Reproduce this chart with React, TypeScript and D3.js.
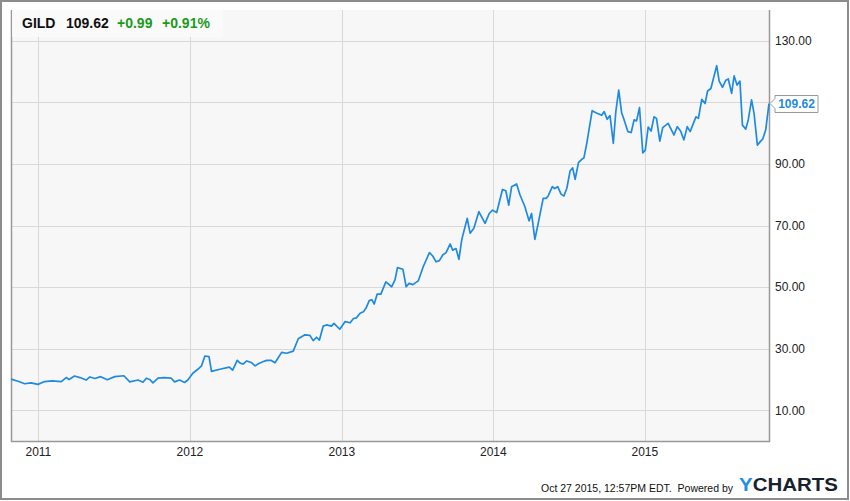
import React, { useEffect, useRef } from 'react';
import * as d3 from 'd3';

// GILD weekly closes
const dates: string[] = [
  '2010-10-27', '2010-11-13', '2010-11-29', '2010-12-14', '2010-12-31',
  '2011-01-16', '2011-02-03', '2011-02-25', '2011-03-09', '2011-03-16', '2011-03-29',
  '2011-04-11', '2011-04-26', '2011-05-05', '2011-05-17', '2011-05-31', '2011-06-16',
  '2011-07-04', '2011-07-26', '2011-08-09', '2011-08-29', '2011-09-10', '2011-09-18',
  '2011-09-26', '2011-10-04', '2011-10-16', '2011-10-31', '2011-11-17', '2011-11-25',
  '2011-12-07', '2011-12-19', '2011-12-27',
  '2012-01-08', '2012-01-20', '2012-01-29', '2012-02-06', '2012-02-16', '2012-02-22',
  '2012-03-13', '2012-04-05', '2012-04-13', '2012-04-24', '2012-05-01', '2012-05-08',
  '2012-05-17', '2012-05-29', '2012-06-06', '2012-06-15', '2012-06-26', '2012-07-04',
  '2012-07-14', '2012-07-24', '2012-08-09', '2012-08-21', '2012-09-06', '2012-09-18',
  '2012-10-04', '2012-10-16', '2012-10-24', '2012-11-01', '2012-11-08', '2012-11-17',
  '2012-11-25', '2012-12-07', '2012-12-13', '2012-12-27',
  '2013-01-09', '2013-01-21', '2013-01-29', '2013-02-05', '2013-02-14', '2013-02-22',
  '2013-02-28', '2013-03-08', '2013-03-14', '2013-03-20', '2013-03-27', '2013-04-05',
  '2013-04-17', '2013-05-01', '2013-05-09', '2013-05-15', '2013-05-28', '2013-06-05',
  '2013-06-12', '2013-06-21', '2013-07-04', '2013-07-16', '2013-07-31', '2013-08-08',
  '2013-08-16', '2013-08-24', '2013-09-01', '2013-09-09', '2013-09-19', '2013-09-25',
  '2013-10-03', '2013-10-10', '2013-10-17', '2013-10-30', '2013-11-06', '2013-11-15',
  '2013-11-27', '2013-12-12', '2013-12-22', '2013-12-30',
  '2014-01-09', '2014-01-23', '2014-01-31', '2014-02-07', '2014-02-14', '2014-02-26',
  '2014-03-06', '2014-03-18', '2014-03-28', '2014-04-03', '2014-04-11', '2014-04-19',
  '2014-05-01', '2014-05-08', '2014-05-13', '2014-05-23', '2014-05-29', '2014-06-05',
  '2014-06-13', '2014-06-20', '2014-06-27', '2014-07-05', '2014-07-11', '2014-07-17',
  '2014-07-25', '2014-08-02', '2014-08-07', '2014-08-14', '2014-08-27', '2014-09-05',
  '2014-09-19', '2014-09-25', '2014-10-02', '2014-10-09', '2014-10-17', '2014-10-23',
  '2014-10-30', '2014-11-06', '2014-11-12', '2014-11-21', '2014-11-29', '2014-12-06',
  '2014-12-12', '2014-12-19', '2014-12-27',
  '2015-01-02', '2015-01-09', '2015-01-16', '2015-01-23', '2015-01-29', '2015-02-06',
  '2015-02-13', '2015-02-26', '2015-03-12', '2015-03-20', '2015-03-28', '2015-04-05',
  '2015-04-13', '2015-04-20', '2015-05-04', '2015-05-10', '2015-05-18', '2015-05-26',
  '2015-06-01', '2015-06-09', '2015-06-23', '2015-06-29', '2015-07-07', '2015-07-15',
  '2015-07-21', '2015-07-29', '2015-08-04', '2015-08-11', '2015-08-18', '2015-08-24',
  '2015-09-01', '2015-09-07', '2015-09-15', '2015-09-21', '2015-09-29', '2015-10-07',
  '2015-10-12', '2015-10-19', '2015-10-27',
];

const prices: number[] = [
  20.1, 19.4, 18.6, 18.9, 18.4,
  19.3, 19.5, 19.3, 20.6, 20.0, 21.1,
  20.6, 19.8, 20.8, 20.3, 20.9, 19.9,
  20.9, 21.2, 19.2, 19.8, 19.1, 20.4,
  20.0, 18.9, 20.4, 20.6, 20.4, 19.2,
  19.8, 19.0, 19.8,
  22.0, 23.3, 24.4, 27.6, 27.4, 22.6,
  23.3, 24.0, 23.0, 26.2, 25.3, 25.0,
  26.0, 25.4, 24.4, 25.2, 25.8, 26.2,
  26.2, 25.4, 28.8, 28.5, 29.2, 33.2,
  34.5, 34.3, 32.6, 33.7, 32.8, 37.3,
  37.7, 37.3, 38.2, 36.3,
  38.8, 38.4, 39.8, 40.0, 41.5, 42.0,
  43.1, 45.6, 45.9, 44.5, 47.7, 47.7,
  51.7, 50.1, 52.3, 56.3, 55.8, 50.1,
  51.2, 50.8, 52.0, 56.6, 61.2, 60.1,
  58.2, 58.6, 60.4, 61.2, 64.0, 62.0,
  62.5, 59.0, 65.5, 72.3, 67.5, 69.1,
  74.5, 70.7, 73.9, 75.0,
  74.2, 81.7, 81.3, 76.6, 82.6, 83.5,
  80.0, 76.1, 71.5, 73.9, 65.5, 70.7,
  78.8, 78.8, 79.6, 82.6, 82.0, 82.6,
  80.2, 79.6, 82.1, 87.8, 88.7, 85.0,
  90.4, 91.5, 91.9, 96.7, 107.3, 106.6,
  105.8, 107.0, 104.5, 105.7, 96.7, 107.0,
  114.0, 106.6, 104.3, 100.5, 100.2, 104.3,
  104.0, 108.3, 93.6,
  94.5, 102.0, 100.7, 105.3, 104.8, 97.4,
  101.8, 103.2, 99.4, 102.1, 100.7, 97.8,
  102.1, 100.5, 105.3, 104.8, 111.0, 109.6,
  113.7, 114.5, 121.9, 116.9, 114.9, 117.2,
  117.6, 112.9, 118.6, 115.6, 116.9, 102.6,
  101.3, 104.3, 110.8, 106.4, 96.1, 97.4,
  98.1, 101.0, 109.62,
];

const yTicks: number[] = [10, 30, 50, 70, 90, 110, 130];
const yearTicks: string[] = ['2011', '2012', '2013', '2014', '2015'];

const ticker = 'GILD';
const lastPrice = '109.62';
const change = '+0.99';
const changePct = '+0.91%';
const timestamp = 'Oct 27 2015, 12:57PM EDT.  Powered by';

const W = 850;
const H = 501;
const FONT = '"Liberation Sans", Arial, sans-serif';

const App: React.FC = () => {
  const svgRef = useRef<SVGSVGElement>(null);

  useEffect(() => {
    if (!svgRef.current) return;
    const svg = d3.select(svgRef.current);
    svg.selectAll('*').remove();

    const left = 11;
    const right = 769;
    const top = 10;
    const bottom = 441;
    const parse = d3.timeParse('%Y-%m-%d');

    const data = dates.map((d, i) => ({ date: parse(d) as Date, value: prices[i] }));
    const last = data[data.length - 1];

    const x = d3.scaleTime()
      .domain([parse('2010-10-27') as Date, parse('2015-10-27') as Date])
      .range([left, right]);
    const y = d3.scaleLinear().domain([0, 140]).range([bottom, top]);
    const ly = y(last.value);

    // outer frame
    svg.append('rect')
      .attr('x', 1).attr('y', 1)
      .attr('width', W - 3).attr('height', H - 3)
      .attr('fill', '#fff')
      .attr('stroke', '#8c8c8c')
      .attr('stroke-width', 2);

    // plot background
    svg.append('rect')
      .attr('x', left).attr('y', top)
      .attr('width', right - left).attr('height', bottom - top)
      .attr('fill', '#f7f7f7');

    // grid
    svg.append('g')
      .selectAll('line')
      .data(yTicks)
      .join('line')
      .attr('x1', left).attr('x2', right)
      .attr('y1', d => Math.round(y(d)) + 0.5)
      .attr('y2', d => Math.round(y(d)) + 0.5)
      .attr('stroke', '#d9d9d9');

    svg.append('g')
      .selectAll('line')
      .data(yearTicks)
      .join('line')
      .attr('x1', d => Math.round(x(parse(d + '-01-01') as Date)) + 0.5)
      .attr('x2', d => Math.round(x(parse(d + '-01-01') as Date)) + 0.5)
      .attr('y1', top).attr('y2', bottom)
      .attr('stroke', '#d9d9d9');

    // axis borders
    svg.append('path')
      .attr('d', `M${left + 0.5},${top} V${bottom + 0.5} H${right + 0.5} V${top}`)
      .attr('fill', 'none')
      .attr('stroke', '#999')
      .attr('stroke-width', 1.5);

    // right axis labels (the one under the last-value flag is hidden)
    svg.append('g')
      .selectAll('text')
      .data(yTicks.filter(t => Math.abs(y(t) - ly) > 14))
      .join('text')
      .attr('x', 775)
      .attr('y', d => y(d))
      .attr('dy', '0.36em')
      .attr('font-family', FONT)
      .attr('font-size', 12)
      .attr('fill', '#222')
      .text(d => d3.format('.2f')(d));

    // year labels
    svg.append('g')
      .selectAll('text')
      .data(yearTicks)
      .join('text')
      .attr('x', d => x(parse(d + '-01-01') as Date))
      .attr('y', 456)
      .attr('text-anchor', 'middle')
      .attr('font-family', FONT)
      .attr('font-size', 12)
      .attr('fill', '#222')
      .text(d => d);

    // price line
    const line = d3.line<{ date: Date; value: number }>()
      .x(d => x(d.date))
      .y(d => y(d.value));

    svg.append('path')
      .datum(data)
      .attr('d', line)
      .attr('fill', 'none')
      .attr('stroke', '#1f8ae3')
      .attr('stroke-width', 1.7)
      .attr('stroke-linejoin', 'round');

    // header box
    svg.append('rect')
      .attr('x', left + 1).attr('y', top)
      .attr('width', 211).attr('height', 27)
      .attr('fill', '#fafafa')
      .attr('opacity', 0.9);

    const header = svg.append('text')
      .attr('x', 22)
      .attr('y', 28)
      .attr('font-family', FONT)
      .attr('font-size', 14)
      .attr('font-weight', 'bold');
    header.append('tspan').attr('fill', '#111').text(ticker);
    header.append('tspan').attr('x', 66).attr('fill', '#111').text(lastPrice);
    header.append('tspan').attr('x', 117).attr('fill', '#1a9a1a').text(change);
    header.append('tspan').attr('x', 162).attr('fill', '#1a9a1a').text(changePct);

    // last value flag
    svg.append('path')
      .attr('d', `M${right + 1},${ly} L${775},${ly - 5} V${ly - 8} H${818} V${ly + 9} H${775} V${ly + 5} Z`)
      .attr('fill', '#fff')
      .attr('stroke', '#999')
      .attr('stroke-width', 1);
    svg.append('text')
      .attr('x', 796.5)
      .attr('y', ly)
      .attr('dy', '0.36em')
      .attr('text-anchor', 'middle')
      .attr('font-family', FONT)
      .attr('font-size', 12)
      .attr('font-weight', 'bold')
      .attr('fill', '#1f8ae3')
      .text(d3.format('.2f')(last.value));

    // footer
    svg.append('text')
      .attr('x', 733)
      .attr('y', 492)
      .attr('text-anchor', 'end')
      .attr('font-family', FONT)
      .attr('font-size', 10.5)
      .attr('fill', '#111')
      .style('white-space', 'pre')
      .text(timestamp);

    const logo = svg.append('text')
      .attr('x', 739)
      .attr('y', 491)
      .attr('font-family', FONT)
      .attr('font-size', 19)
      .attr('font-weight', 900)
      .attr('textLength', 99)
      .attr('lengthAdjust', 'spacingAndGlyphs');
    logo.append('tspan').attr('fill', '#1f8fe6').text('Y');
    logo.append('tspan').attr('fill', '#17222e').text('CHARTS');
  }, []);

  return (
    <svg
      ref={svgRef}
      width={W}
      height={H}
      style={{ position: 'absolute', left: 0, top: 0, display: 'block' }}
    />
  );
};

export default App;
